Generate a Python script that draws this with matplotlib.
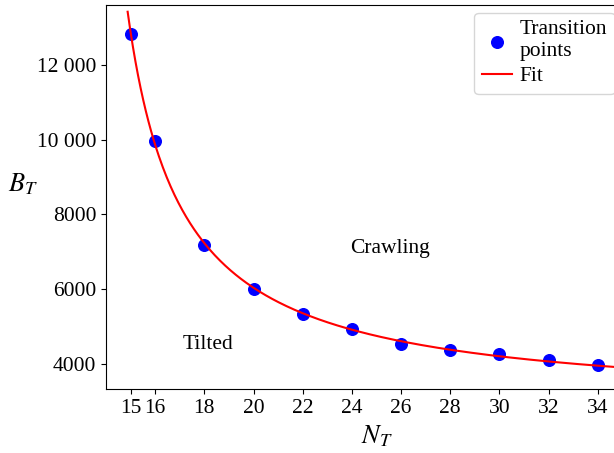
import numpy as np
import matplotlib.pyplot as plt
from matplotlib.ticker import FuncFormatter

plt.rcParams['font.family'] = ['Liberation Serif', 'DejaVu Serif']
plt.rcParams['mathtext.fontset'] = 'stix'
plt.rcParams['font.size'] = 15.5

# transition points
n_t = [15, 16, 18, 20, 22, 24, 26, 28, 30, 32, 34]
b_t = [12840, 9970, 7180, 6010, 5340, 4930, 4530, 4370, 4260, 4100, 3980]
x_ticks = [15, 16, 18, 20, 22, 24, 26, 28, 30, 32, 34]
y_ticks = [4000, 6000, 8000, 10000, 12000]

n = np.array(n_t, dtype=float)
b = np.array(b_t, dtype=float)

# fit B = a / (N - c) + d, scanning c and solving a, d by least squares
best = None
for c in np.linspace(5, 14.8, 500):
    A = np.column_stack([1.0 / (n - c), np.ones_like(n)])
    coef, res, _, _ = np.linalg.lstsq(A, b, rcond=None)
    err = np.sum((A @ coef - b) ** 2)
    if best is None or err < best[0]:
        best = (err, c, coef)
_, c_fit, (a_fit, d_fit) = best
n_fit = np.linspace(14.88, 36, 400)
b_fit = a_fit / (n_fit - c_fit) + d_fit


def thousands(v, pos):
    v = int(round(v))
    if abs(v) >= 10000:
        return f"{v:,}".replace(",", " ")
    return str(v)


fig = plt.figure(figsize=(6.14, 4.53), dpi=100)
ax = fig.add_axes([106 / 614, 64 / 453, 541 / 614, 384 / 453])

ax.scatter(n_t, b_t, s=70, color='blue', label='Transition\npoints', zorder=2)
ax.plot(n_fit, b_fit, color='red', lw=1.5, label='Fit', zorder=3)

ax.text(25.55, 7100, 'Crawling', ha='center', va='center')
ax.text(18.15, 4530, 'Tilted', ha='center', va='center')

ax.set_xlim(14, 36)
ax.set_ylim(3331, 13605)
ax.set_xticks(x_ticks)
ax.set_yticks(y_ticks)
ax.yaxis.set_major_formatter(FuncFormatter(thousands))

ax.set_xlabel('$N_T$', fontsize=19, labelpad=4)
ax.set_ylabel('$B_T$', fontsize=19, rotation=0, labelpad=10)

ax.legend(loc='upper left', bbox_to_anchor=(0.681, 0.98), borderaxespad=0,
          handlelength=1.4, handletextpad=0.35, labelspacing=0.25,
          borderpad=0.35)

fig.savefig('out.png', dpi=100)
